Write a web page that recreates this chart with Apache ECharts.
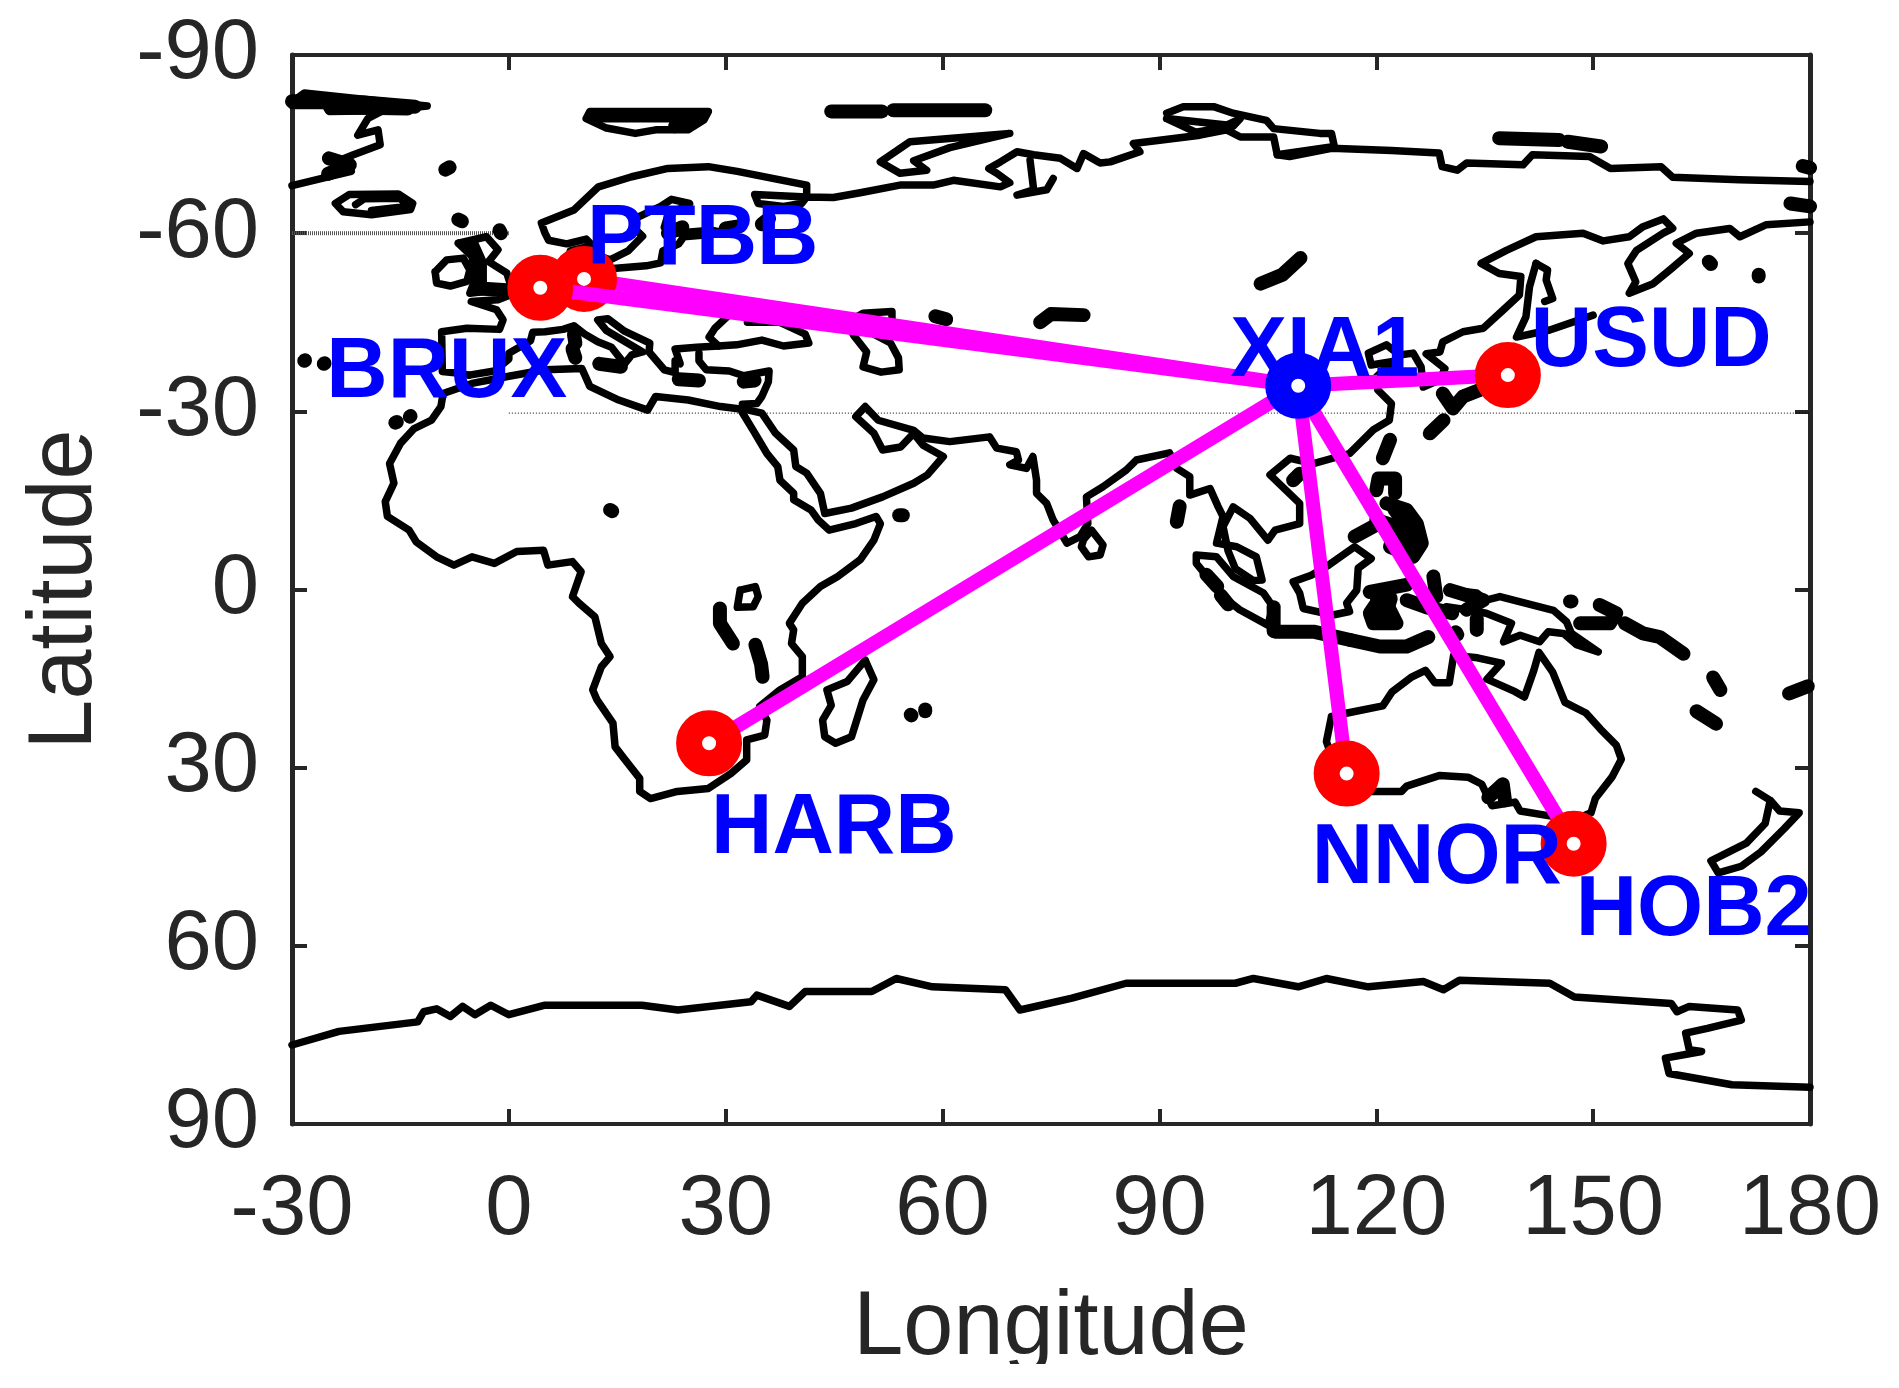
<!DOCTYPE html>
<html><head><meta charset="utf-8">
<script src="https://cdn.jsdelivr.net/npm/echarts@6/dist/echarts.min.js"></script>
<style>html,body{margin:0;padding:0;background:#fff}#c{width:1899px;height:1388px}</style>
</head><body><div id="c"></div>
<script>
const lonTicks=[-30,0,30,60,90,120,150,180];
const latTicks=[-90,-60,-30,0,30,60,90];
const stations=['BRUX','PTBB','USUD','HARB','NNOR','HOB2'];
const stationLon=[4.35,10.4,138.2,27.7,115.9,147.3];
const stationLat=[-50.8,-52.3,-36.1,25.9,31.0,42.8];
const hubName='XIA1';
const hubPos=[109.2,-34.3];
const gridLat60=[[-30,-60],[0,-60]];
const gridLat30=[[0,-29.7],[180,-29.7]];

const africa=[[-9.1,-33],[-5.1,-34.7],[0,-35.9],[5,-37],[10.1,-37.2],[11.2,-34.2],[15.2,-31.9],[19.2,-30.2],[20.3,-32.5],[24.8,-31.9],[29.3,-30.8],[32,-30.4],[33.8,-26.8],[35.7,-22.9],[37.2,-20.7],[37.5,-18.4],[39.4,-16.2],[39.4,-15.1],[41.8,-13.4],[42.8,-11.7],[44.3,-10],[48,-11.1],[50.8,-12.3],[51.4,-11.1],[50.5,-8.3],[48.6,-5],[45.5,-2.2],[43.1,-0.5],[40.6,2.3],[38.8,5.7],[39.4,6.8],[39.1,9.1],[40.6,11.3],[40.6,14.7],[37.5,16.9],[34.7,19.7],[35.7,22],[35.4,24.5],[32.9,25.3],[32.9,28.7],[30.7,31],[27.6,33.5],[23.3,34],[19.6,35.2],[18.1,34],[18.1,31.8],[15.9,28.4],[14.7,26.5],[14.4,22.5],[12.2,18.6],[11.6,16.9],[12.8,13],[14,11.3],[12.8,9.1],[11.9,4.6],[9.7,2.3],[8.8,1.2],[10,-3],[8.8,-4.7],[5.4,-4.1],[4.8,-6.6],[1.1,-6.4],[-2,-4.4],[-5.1,-5.5],[-7.6,-4.1],[-10,-5.5],[-12.8,-8],[-13.8,-10],[-16.8,-12.3],[-17.1,-14.8],[-15.9,-17.9],[-16.5,-21.2],[-15,-24.6],[-13.1,-27.1],[-10.7,-28.5],[-9.4,-30.8],[-9.1,-33]];
const madagascar=[[49.3,11.9],[50.5,15.2],[49,18.6],[47.4,24.8],[45.2,25.9],[43.7,24.8],[43.4,22],[44.6,19.5],[44,16.9],[46.8,15.5],[49.3,11.9]];
const victoria=[[32,0.1],[34.1,-0.5],[34.5,1.2],[33.8,2.9],[31.6,3],[32,0.1]];
const arabia=[[32.1,-30.5],[35,-29.7],[36.9,-26.3],[39.4,-23.5],[39.7,-20.7],[41.2,-19.6],[43.1,-16.2],[43.7,-12.8],[47.4,-13.7],[51.7,-15.6],[56,-17.9],[57.9,-19.3],[60.1,-22.4],[57.3,-24.3],[56,-26.3],[54.2,-24],[51.7,-23.5],[50.5,-26.3],[48,-29.1],[49.3,-30.8],[51.1,-28.5],[56,-26.8],[57.3,-25.5],[61,-24.9],[66.5,-25.7],[67.5,-23.8],[70.2,-23.2],[70.5,-21.8],[69.3,-21],[71.6,-20.4],[72.5,-22.4],[73,-18.4],[73,-16.2],[74.4,-14.5],[75.3,-11.7],[77.2,-7.8],[79,-8.9],[80.1,-11.1],[79.9,-15.6],[82.2,-17.3],[85.4,-20.1],[86.8,-21.8],[91.4,-23],[92.4,-20.4],[94.2,-19],[94.2,-15.9],[97,-17],[98.1,-14],[98.8,-12.3],[97.9,-7.8],[100.7,-7.2],[103.4,-5.5],[104.2,-1.6],[103,-1.5],[100.5,-3.5],[99.5,-6.5],[98.8,-10.6],[100.2,-13.9],[102.5,-12],[105,-8.3],[106,-10],[109.4,-11.1],[109.4,-14.5],[105.3,-19.3],[108.1,-22.1],[111.3,-21.2],[116.3,-22.9],[119.6,-26.9],[121.8,-28.5],[122.1,-31.3],[120.2,-33.6],[120,-35.8],[122.3,-38.4],[119.3,-37.8],[118.9,-39.8],[121.4,-41.2],[123.2,-39.5],[125.1,-39.8],[126.2,-37.5],[126.5,-34.1],[128.8,-35.3],[129.5,-37.2],[126.9,-39.7],[128.8,-40],[129.2,-41.7],[132,-43.4],[134.8,-44],[137.5,-47],[139.8,-49.6],[140,-52.7],[137,-53.2],[134.5,-54.9],[138,-57.1],[142.1,-59.4],[148.6,-60],[151.4,-58.7],[155,-59.4],[156.9,-61.1],[159.7,-62.4],[161,-60.8],[159.7,-60],[156,-57.1],[154.8,-54.9],[155.9,-51.8],[155,-49.9],[158.3,-51.5],[160.6,-53.8],[163.3,-56.6],[161.5,-58.3],[164.3,-60],[168.9,-60.8],[170.3,-59.4],[173.9,-61.4],[180,-61.9]];
const europeMed=[[-5.5,-36.1],[-2,-36.8],[0,-38.8],[0,-39.8],[3,-41.9],[3.3,-43.3],[5,-43.4],[7.5,-43.8],[9,-44.4],[10.5,-43],[12.3,-41.7],[14.2,-40.8],[16,-38],[17,-39.5],[18.5,-40],[16,-41.8],[13.5,-43.6],[12.3,-45.4],[13.7,-45.6],[16,-43.5],[19.5,-41.5],[19.4,-40],[21.5,-37],[23,-36.5],[23,-38.5],[23.7,-38],[23,-40.5],[26,-40.8],[29,-41]];
const turkeySouth=[[26.3,-39.8],[26.3,-38.5],[27.3,-37],[30.5,-36.8],[32.5,-36],[36,-36.8],[35.9,-35],[35,-32.5],[34.3,-31.3],[32.3,-31.2]];
const blackSea=[[29,-41],[31.5,-41.2],[35,-42],[38,-41],[41.5,-41.5],[41,-43],[37.5,-45],[35,-45],[33,-45],[33,-46],[30.7,-46.5],[28.5,-44],[27.7,-42.5],[29,-41]];
const azov=[[35,-45.4],[38.5,-47],[37.5,-45]];
const caspian=[[47.5,-45.5],[49,-46.5],[53,-46.8],[53,-45],[51,-44.5],[50.5,-43],[52.8,-41.5],[53.9,-39],[54,-37],[51.5,-36.6],[49,-37.5],[49.5,-40],[47.7,-42.8],[47,-44.5],[47.5,-45.5]];
const atlanticEurope=[[-5.5,-36.1],[-6.8,-36.4],[-9.2,-36.7],[-9.3,-43.4],[-5.8,-44],[-1.3,-43.8],[-0.8,-45.4],[-1.7,-47.1],[-5.2,-48.5],[-1.5,-48.8],[0,-49.5],[2,-51],[4,-52],[6,-53.5],[8.5,-54],[8.2,-55],[8.5,-57],[10.5,-57.6],[10.5,-56],[10,-54.7],[11,-54],[14,-54],[19,-54.5],[21,-55],[21.3,-57],[23.5,-58.2],[24.2,-59.4],[30,-60],[28,-60.5],[23,-60],[21.5,-61],[22,-63],[25,-65],[22.5,-65.7],[21,-64.5],[17.5,-62.5],[17.2,-61],[18.5,-59.5],[16.5,-57],[14,-55.5],[12.8,-56],[11.5,-58],[10.7,-59],[8,-58.2],[5.5,-58.8],[5,-60],[4.5,-61.7],[9,-63.9],[12.4,-67.8],[17,-69.5],[22,-70.9],[27.6,-71.2],[31.6,-70.4],[41.2,-68.1],[41.2,-66.1],[34,-66.5],[34.5,-65],[38,-64.5],[40.5,-65],[41.2,-66.1],[44.9,-66],[48.6,-66.8],[54.1,-68.1],[58.7,-68.1],[61.5,-68.9],[68,-67.8],[69.3,-68.5],[67.5,-70.1],[66.4,-70.9],[68,-72],[70.3,-73.7],[72.6,-73.2],[76.3,-72.6],[78.6,-70.9],[79.5,-73.4],[81.8,-71.8],[83.2,-72],[87.3,-73.7],[86.4,-75.1],[95.6,-76.5],[99.3,-77.4],[101.2,-76.2],[105.8,-76.2],[106.3,-73.2],[108,-72.9],[113.8,-74.3],[122.1,-73.9],[128.7,-73.5],[129.1,-71.2],[131.2,-70.6],[132.5,-71.8],[140.3,-71.5],[141.6,-73.2],[149.5,-72.9],[152.4,-70.9],[159.4,-71.2],[161,-69.4],[170.2,-69],[180,-68.7]];
const taimyr=[[91,-80.2],[93.3,-81.3],[97.5,-81.3],[100.2,-80.2],[104.8,-79],[105.8,-77.6],[112.2,-76.8],[113.8,-76.8],[114.2,-74.6],[106.3,-73.2]];
const taimyrInner=[[91,-79.3],[99.3,-78.2],[101.2,-79.3],[100.2,-78],[95,-77],[91,-79.3]];
const obGulf=[[72.1,-72.3],[72.6,-67.3],[70.3,-66.4],[74.4,-67.3],[75.3,-69.2]];
const novaya=[[51.4,-72],[55.5,-75.4],[69.3,-76.8],[61,-74.4],[56,-72.2],[57.8,-70.6],[54.1,-70.1],[51.4,-72]];
const svalbard=[[10.7,-79.3],[11.2,-80.5],[27.6,-80.5],[27,-79.1],[24.8,-77.4],[20.3,-77.4],[17.5,-76.8],[13.5,-77.7],[10.7,-79.3]];
const greenland=[[-30,-82.1],[-28.3,-83.6],[-19.8,-82.5],[-11.3,-81.4],[-17.5,-80.6],[-24.9,-80.5],[-25.4,-81.5],[-30,-81.5]];
const greenlandEast=[[-17.5,-80.6],[-19.5,-79.3],[-20.9,-76.5],[-18.1,-77.4],[-17.8,-74.9],[-21.5,-73.2],[-24.3,-71.8],[-21.8,-70.4],[-26,-69.2],[-30,-68]];
const iceland=[[-24,-65],[-22.1,-66.5],[-15.3,-66.6],[-13.3,-65],[-13.6,-64],[-19,-63.1],[-22.9,-63.6],[-24,-65]];
const icelandInner=[[-21.2,-64.8],[-20,-65.8],[-15,-65.9],[-14.1,-64.5],[-19,-63.8]];
const ireland=[[-10.2,-53.5],[-8.6,-55.5],[-6.3,-55.8],[-5.4,-53.8],[-5.8,-51.9],[-8.1,-51.1],[-10,-51.6],[-10.2,-53.5]];
const britain=[[-7,-58.3],[-3.1,-59.4],[-1.5,-57.2],[-2.8,-55.2],[-0.3,-53.3],[0.4,-50.7],[-5.4,-49.9],[-4.7,-52.1],[-5.1,-56.1],[-7,-58.3]];
const sriLanka=[[79.5,-8.4],[80.6,-10],[82.2,-7.5],[81.8,-5.8],[80.2,-5.5],[79.2,-7.2],[79.5,-8.4]];
const sumatra=[[95.1,-5.8],[97.9,-5.5],[100.2,-2.2],[104.4,0.6],[105.7,2.9],[105,6],[101.1,3.4],[98.8,1.2],[97,-1.6],[95.1,-4.4],[95.1,-5.8]];
const borneo=[[108.5,-1.3],[111,-2.4],[113.4,-4.1],[117,-7.2],[119.3,-5.2],[117.5,-3.6],[117.3,0.1],[115.9,2.3],[116.3,3.7],[114,4.3],[109.9,3.2],[109.4,0.6],[108.5,-1.3]];
const newGuinea=[[130.2,0.1],[133.9,0.6],[135.2,1.8],[137.1,1.2],[144.5,3.5],[146.3,5.4],[147,7.4],[150.7,10.5],[147.7,9.3],[145.9,7.4],[143.8,7.1],[142.6,8.8],[139.9,7.7],[137.6,8.8],[138.7,5.7],[135.2,4],[132.5,3.4],[129.7,2.9]];
const australia=[[113.8,21.4],[116,20.8],[120.9,19.6],[122.2,17.2],[124.8,14.8],[126.8,13.6],[128.1,15.7],[130.1,15.7],[130.7,11.1],[134,11.5],[137.3,12.4],[135.3,15.1],[139.2,17.2],[140.5,18.1],[141.8,13.6],[142.5,10.6],[144.4,13.9],[146.1,19],[149,20.8],[151,23.5],[153.2,26.2],[153.9,28.6],[152.6,31.6],[150.3,35.2],[149.7,37.6],[147,39],[144.4,38.2],[139.9,37.3],[139.2,35.8],[136,36.4],[134.6,32.8],[132.7,31.6],[128.8,31.3],[124.2,33.1],[123.5,34],[119,34],[115.3,34.5],[114.8,31],[113.5,27],[113.1,25.6],[113.8,21.4]];
const newZealand=[[172.5,34],[174.5,35.5],[175.8,37.3],[178.5,37.6],[176.4,40.3],[173.2,44.2],[170.5,46.6],[167.3,47.7],[166.3,45.7],[171.2,42.7],[173.8,39.4],[174.5,35.5]];
const sakhalin=[[142.1,-54.9],[143.7,-53.8],[143.5,-52.1],[144.4,-49],[143.3,-48.5]];
const sakhalinWest=[[142.1,-54.9],[141.2,-51],[140.7,-45.9],[139.4,-42.5],[141.7,-43.1],[144,-43.7],[150,-46.2]];
const antarctica=[[-30,76.7],[-23.5,74.4],[-12.6,72.8],[-11.8,71.1],[-10,70.6],[-8.1,71.9],[-6.4,70.2],[-4.7,71.6],[-2.5,70],[0,71.6],[5,70],[18.4,70],[23.4,70.8],[33.5,69.4],[34.3,68.3],[38.8,70.2],[41,67.7],[50.2,67.7],[53.6,65.5],[58.6,66.9],[68.7,67.4],[70.7,70.8],[77.9,68.8],[85.4,66.3],[100.5,66.3],[103,65.5],[109.2,66.9],[113.1,65.5],[118.9,66.9],[126.5,66],[129.3,67.4],[131.5,65.8],[144,66.3],[147.4,68.6],[160.8,69.7],[161.6,71.1],[163.3,70.2],[170,70.8],[170.5,72.5],[165.8,73.9],[162.8,74.7],[163.3,77.5],[165,77.8],[160,78.9],[160.5,81.5],[169.2,83.4],[180,83.8]];
const coasts=[africa,madagascar,victoria,arabia,europeMed,turkeySouth,blackSea,azov,caspian,atlanticEurope,taimyr,taimyrInner,obGulf,novaya,svalbard,greenland,greenlandEast,iceland,icelandInner,ireland,britain,sriLanka,sumatra,borneo,newGuinea,australia,newZealand,sakhalin,sakhalinWest,antarctica];

const smallIslands=[[[-28.3,-38.5],[-28.2,-38.6]],[[-25.6,-38],[-25.5,-38.1]],[[-15.7,-28.1],[-15.5,-28.2]],[[-13.7,-29.1],[-13.6,-29.2]],[[-8.8,-70.7],[-8.2,-71.1]],[[-7,-62.3],[-6.5,-62]],[[-1.3,-60.5],[-1.1,-60]],[[14,-13.4],[14.3,-13.2]],[[54,-12.5],[54.5,-12.5]],[[55.6,21.1],[55.7,21.2]],[[57.6,20.2],[57.6,20.5]],[[166,-55.2],[166.3,-54.8]],[[172.9,-53],[172.9,-52.7]],[[146.8,2],[147,2]],[[131,7.2],[131.2,7.6]]];
const thickParts=[[[29.2,3.2],[29.2,5.7],[31,9.1]],[[34.1,9.3],[34.9,12.6],[35.1,14.7]],[[59,-46],[60.5,-45.5]],[[73.5,-45],[75,-46.4],[79.5,-46.2]],[[104,-51.5],[107,-53],[109.5,-55.8]],[[44.6,-80.5],[51.6,-80.5]],[[53.2,-80.7],[65.9,-80.7]],[[137,-76],[145.3,-75.7]],[[146.5,-75.4],[151.1,-74.6]],[[179,-71.3],[180,-71]],[[177.3,-65],[180,-64.5]],[[-24.9,-72.6],[-22,-71.5],[-25,-70]],[[-30,-82.2],[-20,-82],[-13,-81.3]],[[-24,-81.2],[-14,-81]],[[12,-79.8],[26,-79.8],[23,-78]],[[-5.1,-58],[-4,-55],[-4,-50.7],[-0.3,-50.4]],[[9,-43],[9.2,-41.5]],[[8.8,-40.5],[9.2,-39]],[[12.5,-38],[15.5,-37.5]],[[23.5,-35.4],[26.3,-35.2]],[[32.5,-35],[34,-35.2]],[[22,-60],[24,-61]],[[30,-60.8],[32,-61.2]],[[35,-61.5],[36,-62.5]],[[92.8,-14],[92.4,-11.4]],[[96.5,-2.5],[98,-0.5]],[[98.5,1],[99.5,2.5]],[[105.8,3],[105.8,7]],[[106,7.1],[111.3,7.1],[116.4,8.5]],[[116.4,8.5],[120.5,9.6],[124.2,9.6],[127.2,8]],[[119.1,0.4],[124.2,-0.8]],[[120.5,1.5],[119.1,4],[119.6,5.7],[122.8,5.7],[121.4,2.3],[120.7,5.7]],[[120,1.2],[122,1.5],[121.5,3.5],[120,3]],[[120,-16.7],[120.3,-18.7],[122.6,-18.7],[122.6,-16.2]],[[121.4,-14.5],[124.2,-13.4],[125.6,-11.1],[126.3,-7.8],[125.1,-5.5],[121.9,-7.2],[122.8,-10.6],[120,-11.7]],[[122.5,-13.5],[124,-11],[123,-8],[125,-7],[124.5,-10],[122.5,-13.5]],[[117,-8.9],[120,-10.9]],[[120.9,-22.1],[121.9,-25.2]],[[108.5,-18.4],[109.4,-19.5]],[[127.4,-26.3],[129.3,-28.5]],[[129.2,-33],[130.6,-30.5],[132,-32.5],[134.3,-33.6]],[[130.2,0.1],[134.8,1.8],[132.5,3.4]],[[127.9,-2.2],[128.3,1.2]],[[124.2,1.8],[127,3],[130.5,4]],[[133.9,5],[133.9,6.8]],[[148.2,5.7],[152.3,5.7],[153.2,4],[150.9,2.6]],[[154.4,5.7],[156.9,7.4],[159.2,8],[162.5,10.8]],[[166.6,14.8],[167.6,16.9]],[[164.3,20.5],[167,22.6]],[[177.1,17.5],[179.7,16.3]],[[135.5,35],[137.5,32.8],[137.8,35.5]]];

const labelOffset={BRUX:[-214,86],PTBB:[3,-38],USUD:[23,-33],HARB:[2,86],NNOR:[-35,86],HOB2:[2,68],XIA1:[-68,-33]};
const TXT='#262626', FONT='"Liberation Sans",Arial,sans-serif';
const series=[];
const plain=(data,width,extra)=>Object.assign({type:'line',data,showSymbol:false,symbol:'none',silent:true,animation:false,xAxisIndex:0,yAxisIndex:0,lineStyle:{color:'#000',width,cap:'round',join:'round'},z:2},extra||{});
series.push(plain(gridLat60,4,{z:1,lineStyle:{color:'#555',width:4,type:[1,1]}}));
series.push(plain(gridLat30,1,{z:1,lineStyle:{color:'#000',width:1,type:[1,2]}}));
coasts.forEach(c=>series.push(plain(c,7.5)));
thickParts.forEach(c=>series.push(plain(c,14)));
smallIslands.forEach(c=>series.push(plain(c,14)));
const link=(i,z)=>series.push(plain([[stationLon[i],stationLat[i]],hubPos],14,{z,lineStyle:{color:'#ff00ff',width:14,cap:'butt'}}));
const ring=(pos,color,z)=>series.push({type:'scatter',data:[pos],symbol:'circle',symbolSize:40,silent:true,animation:false,itemStyle:{color:'#fff',borderColor:color,borderWidth:26,opacity:1},z});
stations.forEach((s,i)=>{
  const base=s==='PTBB'?3:(s==='BRUX'?5:3);
  link(i,base);
});
stations.forEach((s,i)=>ring([stationLon[i],stationLat[i]],'#ff0000',s==='PTBB'?4:6));
ring(hubPos,'#0000ff',7);
const lab=(name,pos)=>series.push({type:'scatter',data:[pos],symbolSize:1,itemStyle:{color:'rgba(0,0,0,0)',opacity:1},silent:true,animation:false,z:10,
  label:{show:true,position:'inside',formatter:name,color:'#0000ff',fontFamily:FONT,fontWeight:'bold',fontSize:85,align:'left',verticalAlign:'middle',offset:labelOffset[name]}});
stations.forEach((s,i)=>lab(s,[stationLon[i],stationLat[i]]));
lab(hubName,hubPos);

const tick={show:true,inside:true,length:15,lineStyle:{color:TXT,width:4}};
const axLab={show:true,color:TXT,fontFamily:FONT,fontSize:85};
const chart=echarts.init(document.getElementById('c'),null,{renderer:'canvas'});
chart.setOption({
  animation:false,backgroundColor:'#fff',
  grid:{left:292,right:89,top:55,bottom:264,containLabel:false,outerBoundsMode:'none'},
  xAxis:[
    {type:'value',min:-30,max:180,interval:30,position:'bottom',name:'Longitude',nameLocation:'middle',nameGap:160,nameTextStyle:{color:TXT,fontFamily:FONT,fontSize:90},axisLine:{show:true,onZero:false,lineStyle:{color:TXT,width:4}},axisTick:tick,axisLabel:Object.assign({margin:44},axLab),splitLine:{show:false}},
    {type:'value',min:-30,max:180,interval:30,position:'top',axisLine:{show:true,onZero:false,lineStyle:{color:TXT,width:4}},axisTick:tick,axisLabel:{show:false},splitLine:{show:false}}
  ],
  yAxis:[
    {type:'value',inverse:true,min:-90,max:90,interval:30,position:'left',name:'Latitude',nameLocation:'middle',nameGap:181,nameTextStyle:{color:TXT,fontFamily:FONT,fontSize:90},axisLine:{show:true,onZero:false,lineStyle:{color:TXT,width:5}},axisTick:tick,axisLabel:Object.assign({margin:33,padding:[10,0,0,0]},axLab),splitLine:{show:false}},
    {type:'value',inverse:true,min:-90,max:90,interval:30,position:'right',axisLine:{show:true,onZero:false,lineStyle:{color:TXT,width:5}},axisTick:tick,axisLabel:{show:false},splitLine:{show:false}}
  ],
  graphic:[{type:'rect',shape:{x:0,y:1364,width:1899,height:24},style:{fill:'#fff'},z:100,silent:true}],
  series
});
</script></body></html>
